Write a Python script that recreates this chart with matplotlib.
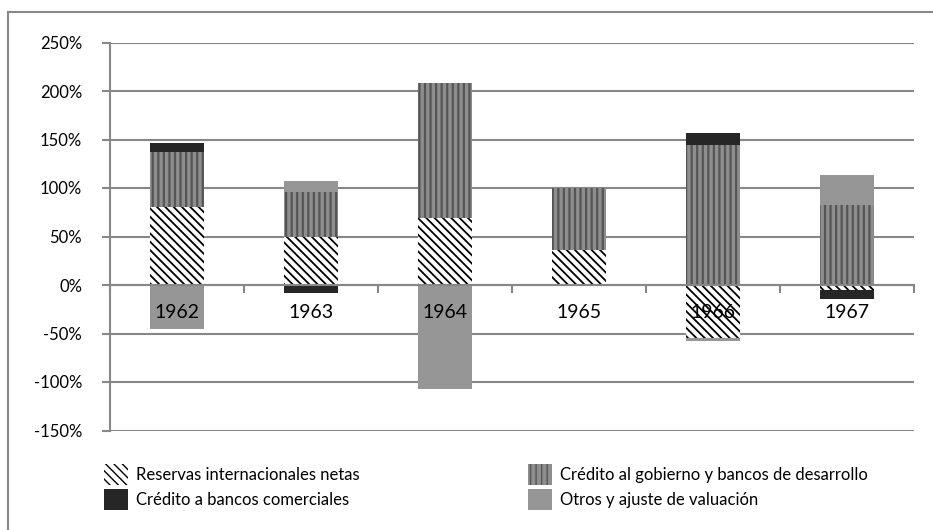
import numpy as np
import matplotlib
matplotlib.use("Agg")
import matplotlib.pyplot as plt
from matplotlib.patches import Patch
from matplotlib.lines import Line2D
from matplotlib.transforms import offset_copy

plt.rcParams['font.family'] = ['Lato', 'DejaVu Sans']

# Contributions to monetary base growth by year (percent)
years = ['1962', '1963', '1964', '1965', '1966', '1967']
reservas = [80, 50, 69, 36, -55, -5]
gobierno = [57, 46, 139, 64, 144, 82]
comerciales = [9, -8, 0, 0, 13, -9]
otros = [-45, 11, -107, -1, -3, 31]
y_ticks = [-150, -100, -50, 0, 50, 100, 150, 200, 250]

labels = ['Reservas internacionales netas',
          'Crédito al gobierno y bancos de desarrollo',
          'Crédito a bancos comerciales',
          'Otros y ajuste de valuación']

GRID = '#878787'
styles = [
    dict(facecolor='white', edgecolor='black', hatch='\\\\\\\\', hlw=1.3),
    dict(facecolor='#8e8e8e', edgecolor='#555555', hatch='|||', hlw=1.6),
    dict(facecolor='#262626', edgecolor='#262626', hatch=None, hlw=1.0),
    dict(facecolor='#969696', edgecolor='#969696', hatch=None, hlw=1.0),
]

fig = plt.figure(figsize=(9.33, 5.30), dpi=100)
ax = fig.add_axes([110 / 933, 1 - 430.5 / 530, (914 - 110) / 933, (430.5 - 42.5) / 530])

x = np.arange(len(years))
pos_base = np.zeros(len(years))
neg_base = np.zeros(len(years))
handles = []
for series, st, lab in zip([reservas, gobierno, comerciales, otros], styles, labels):
    vals = np.array(series, dtype=float)
    bottoms = np.where(vals >= 0, pos_base, neg_base)
    plt.rcParams['hatch.linewidth'] = st['hlw']
    ax.bar(x, vals, width=0.4, bottom=bottoms, facecolor=st['facecolor'],
           edgecolor=st['edgecolor'], hatch=st['hatch'], linewidth=0, zorder=1)
    pos_base = pos_base + np.where(vals >= 0, vals, 0)
    neg_base = neg_base + np.where(vals < 0, vals, 0)
    handles.append(Patch(facecolor=st['facecolor'], edgecolor=st['edgecolor'],
                         hatch=st['hatch'], linewidth=0, label=lab))

ax.set_xlim(-0.5, len(years) - 0.5)
ax.set_ylim(-150, 250)
ax.set_yticks(y_ticks)
ax.set_yticklabels([f'{v}%' for v in y_ticks])
ax.yaxis.grid(True, color=GRID, linewidth=1.5)
ax.set_axisbelow(True)

# zero line carries the category axis; ticks mark category boundaries
ax.spines['bottom'].set_position(('data', 0))
ax.set_xticks(np.arange(-0.5, len(years), 1.0))
ax.set_xticklabels([])
ax.tick_params(axis='x', which='major', direction='out', length=6, width=1.5, color=GRID)
ax.tick_params(axis='y', direction='out', length=6, width=1.5, color=GRID, pad=14, labelsize=12)

# year labels drawn on top of the bars, just below the zero line
label_tr = offset_copy(ax.transData, fig=fig, x=0, y=-14, units='points')
for xi, yr in zip(x, years):
    ax.text(xi, 0, yr, transform=label_tr, ha='center', va='top', fontsize=14, zorder=5)

for side in ['top', 'right']:
    ax.spines[side].set_visible(False)
for side in ['left', 'bottom']:
    ax.spines[side].set_color(GRID)
    ax.spines[side].set_linewidth(1.5)

# two-column legend below the plot
common = dict(loc='upper left', frameon=False, borderpad=0, borderaxespad=0,
              handlelength=1.45, handleheight=1.6, handletextpad=0.45,
              labelspacing=0.2, fontsize=12)
fig.legend(handles=[handles[0], handles[2]], bbox_to_anchor=(104 / 933, 1 - 464 / 530), **common)
fig.legend(handles=[handles[1], handles[3]], bbox_to_anchor=(528 / 933, 1 - 464 / 530), **common)

# chart frame
fig.add_artist(Line2D([8 / 933, 1], [1 - 12 / 530] * 2, transform=fig.transFigure, color=GRID, lw=1.5))
fig.add_artist(Line2D([8 / 933] * 2, [0, 1 - 12 / 530], transform=fig.transFigure, color=GRID, lw=1.5))

fig.savefig('out.png', dpi=100)
